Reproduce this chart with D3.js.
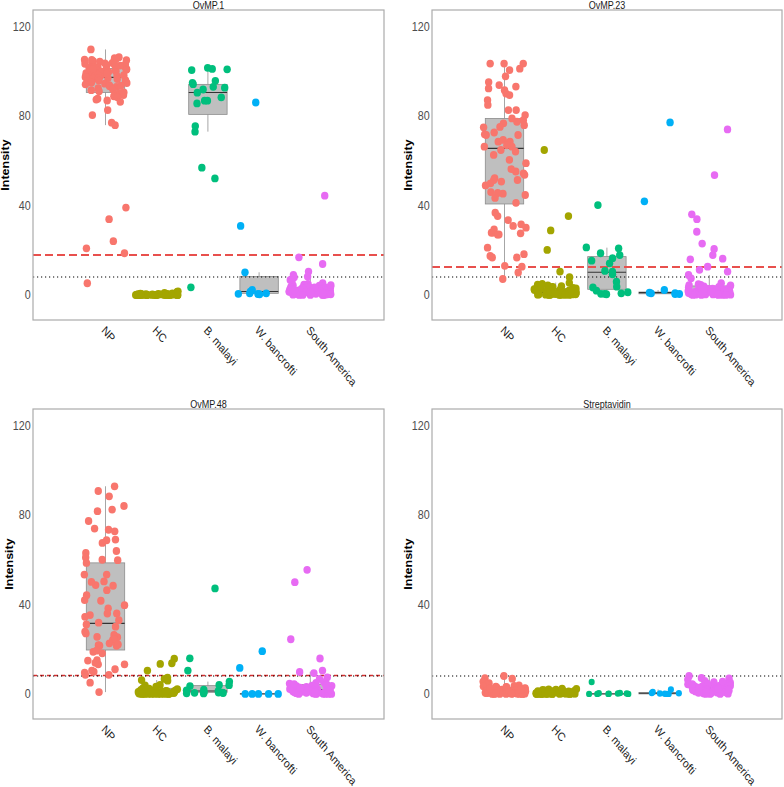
<!DOCTYPE html>
<html><head><meta charset="utf-8">
<script src="https://cdn.jsdelivr.net/npm/d3@7"></script>
<style>body{margin:0;background:#fff} svg{display:block} text{font-family:"Liberation Sans",Arial,sans-serif}</style>
</head><body><svg id="chart" width="784" height="787"></svg>
<script>
// ---------------- DATA ----------------
const categories = ["NP", "HC", "B. malayi", "W. bancrofti", "South America"];
const groupColors = ["#F8766D", "#A3A500", "#00BF7D", "#00B0F6", "#E76BF3"];
const panelTitles = ["OvMP.1", "OvMP.23", "OvMP.48", "Streptavidin"];
const yTickValues = [0, 40, 80, 120];
const yDomain = [-11.2, 127.2];
const redCutoffs = [17.8, 12.5, 8.2, null];
const dottedCutoffs = [8, 8, 8, 8];

// OvMP.1
const ovmp1_NP = [109.6,106.1,105.7,105.3,105.0,104.8,104.4,104.1,103.9,103.4,103.2,102.9,102.6,102.2,101.9,101.7,101.3,101.0,100.8,100.5,100.2,99.9,99.6,99.4,99.0,98.8,98.5,98.1,97.9,97.6,97.3,97.1,96.8,96.5,96.2,95.9,95.5,95.1,94.8,94.3,94.0,93.7,93.2,92.9,92.3,91.8,91.4,90.9,90.4,90.1,89.6,89.2,88.7,88.3,87.6,87.2,86.8,86.2,104.9,103.6,102.4,101.5,100.6,99.7,98.9,98.3,97.7,96.9,95.7,94.6,93.4,102.8,100.9,96.4,82.5,80.3,76.9,75.8,39.0,33.8,24.0,20.8,18.6,5.2];
const ovmp1_HC = [0,0.3,0,0,0.5,0,0.1,0,0.2,0,0,0.4,0,0,1.3,0,0.2,0,0.6,0,0,0.1,0,0.3,0,0.9,0,0,0.2,0,0.4,0,0,0.1,0,0.7,0,0.2,0,0,1.6,0,0.3,0,0];
const ovmp1_BM = [100.7,101.4,100.4,100.9,94.1,95.6,94.7,92.9,90.3,91.7,92.5,86.7,86.7,85.5,88.2,72.9,75.4,56.8,52.0,3.4];
const ovmp1_WB = [85.9,30.8,10.1,2.2,1.5,0.7,0.5,0.4,0.3,0.7];
const ovmp1_SA = [44.3,16.8,13.8,10.4,8.9,8.2,7.9,6.7,6.4,5.2,4.9,4.6,4.3,4.1,3.9,3.7,3.6,3.4,3.2,3.1,2.9,2.8,2.7,2.5,2.4,2.3,2.2,2.0,1.9,1.8,1.7,1.6,1.5,1.4,1.4,1.3,1.2,1.1,1.0,0.9,0.9,0.8,0.7,0.7,0.6,0.5,0.5,0.4,0.3,0.3,0.2,0.2,0.1,0.1,0,0,0,0,0,3.3,2.6,1.9,1.2,0.8,4.4,2.1,0.6];
// box stats: [lower whisker, Q1, median, Q3, upper whisker] per category
const ovmp1_box = [[75.8,90.4,97.1,101.1,109.6],[0,0,0,0.3,0.7],[72.9,80.6,90.4,94.0,101.4],[0.3,0.7,1.5,8.2,10.1],[0,0.6,1.6,3.4,7.9]];

// OvMP.23
const ovmp23_NP = [103.3,100.4,103.3,101.0,103.3,97.6,93.7,93.0,95.0,92.2,91.4,89.9,89.2,87.0,84.8,82.5,82.5,80.3,78.8,78.0,76.6,77.3,75.8,75.0,71.4,71.4,71.7,68.4,68.4,69.2,67.7,66.2,66.2,64.7,62.5,60.3,58.8,55.1,54.3,53.6,52.1,51.3,50.6,49.8,51.3,45.9,45.2,45.5,43.3,41.1,35.2,36.7,33.4,31.5,30.8,30.0,27.8,27.0,27.5,27.8,21.1,18.2,17.4,16.7,16.7,13.0,10.0,7.1,74.8,72.5,66.8,64.0,56.2,48.9,44.6,29.2,26.9,12.6];
const ovmp23_HC = [64.7,35.2,28.8,20.1,10.4,7.9,5.4,4.9,4.6,4.3,3.9,3.6,3.4,3.1,2.9,2.7,2.4,2.2,2.0,1.8,1.7,1.5,1.4,1.2,1.1,1.0,0.9,0.8,0.7,0.6,0.5,0.5,0.4,0.3,0.3,0.2,0.2,0.1,0.1,0,0,0,0,0,0,2.6,1.3,3.5,0.8,4.1,1.9,0.4];
const ovmp23_BM = [40.1,20.8,21.2,18.6,17.8,15.3,16.4,14.1,10.7,10.4,9.2,5.9,3.7,3.3,1.9,0.7,0.5,0.5,1.2,0.3];
const ovmp23_WB = [77.0,41.8,0.7,0.4,2.2,1.0,0.8,0.4];
const ovmp23_SA = [73.9,53.5,36.0,33.8,28.2,22.9,20.5,17.8,15.9,16.2,12.6,11.2,10.4,8.9,7.4,5.2,4.8,4.5,4.2,4.0,3.8,3.6,3.5,3.3,3.1,3.0,2.8,2.7,2.5,2.4,2.2,2.1,2.0,1.9,1.8,1.6,1.5,1.4,1.3,1.2,1.1,1.0,0.9,0.8,0.8,0.7,0.6,0.5,0.4,0.4,0.3,0.2,0.2,0.1,0.1,0,0,0,0,0,3.4,2.3,1.7,0.6,4.4,2.9,1.2,0.3];
const ovmp23_box = [[6.7,40.6,65.4,78.8,103.3],[0,0.3,1.0,2.8,5.5],[0.3,2.5,10.1,17.1,21.1],[0.4,0.5,1.0,1.3,2.2],[0,0.8,2.0,4.0,8.9]];

// OvMP.48
const ovmp48_NP = [92.7,90.6,88.2,83.9,82.3,81.6,77.2,73.8,73.3,72.6,68.6,67.4,68.9,62.9,60.9,63.8,59.7,59.9,58.5,53.3,53.3,48.6,48.3,50.0,50.2,46.3,44.1,41.9,41.6,39.6,38.2,35.2,35.9,34.4,35.9,31.8,31.0,30.0,32.9,25.5,25.3,27.8,26.3,27.0,24.1,24.3,21.5,22.6,21.8,21.5,21.5,22.1,18.1,18.8,19.3,15.1,13.2,13.2,13.9,14.9,11.0,9.9,10.4,9.5,8.5,8.5,5.0,0.8];
const ovmp48_HC = [15.7,13.7,13.4,10.4,7.3,6.7,6.2,5.9,4.0,3.8,3.2,2.6,2.3,2.0,1.8,1.6,1.4,1.2,1.1,1.0,0.9,0.8,0.7,0.6,0.5,0.5,0.4,0.3,0.3,0.2,0.2,0.1,0.1,0,0,0,0,0,0,0,0,1.5,0.6,2.1,0.9,0.3,1.3,0,0.4,0];
const ovmp48_BM = [47.1,15.9,10.4,5.5,4.0,3.9,3.5,1.9,1.6,1.3,0.8,0.6,0.6,0.5,0.3,0.2,0.4];
const ovmp48_WB = [19.1,11.6,0,0,0,0,0];
const ovmp48_SA = [55.4,49.9,24.4,15.8,10.4,9.8,9.3,7.4,6.7,5.3,4.9,4.6,4.2,3.9,3.7,3.5,3.3,3.1,2.9,2.7,2.6,2.4,2.3,2.1,2.0,1.9,1.7,1.6,1.5,1.4,1.3,1.2,1.1,1.0,0.9,0.8,0.7,0.7,0.6,0.5,0.4,0.4,0.3,0.2,0.2,0.1,0.1,0,0,0,0,0,3.6,2.2,1.4,0.5,4.4,2.8,1.8,0.9];
const ovmp48_box = [[0.8,19.6,31.5,58.5,92.7],[0,0.2,0.8,2.5,6.2],[0.2,0.7,1.3,3.7,5.5],[0,0,0,0,0],[0,0.8,2.0,4.2,9.9]];

// Streptavidin
const strep_NP = [8.0,7.0,6.8,5.5,4.8,4.1,3.8,3.6,3.4,3.2,3.0,2.9,2.7,2.6,2.4,2.3,2.1,2.0,1.9,1.8,1.7,1.6,1.5,1.4,1.3,1.2,1.1,1.0,0.9,0.9,0.8,0.7,0.6,0.6,0.5,0.4,0.4,0.3,0.3,0.2,0.2,0.1,0.1,0,0,0,0,0,0,0,2.5,1.3,0.5,3.1,1.8,0.7,0,0.2];
const strep_HC = [2.4,2.2,2.0,1.9,1.8,1.6,1.5,1.4,1.3,1.2,1.1,1.0,0.9,0.9,0.8,0.8,0.7,0.7,0.6,0.6,0.5,0.5,0.4,0.4,0.3,0.3,0.3,0.2,0.2,0.2,0.1,0.1,0.1,0,0,0,0,0,0,0,0,0,0,1.7,0.9,0.4,1.2,0.6,0.2,0];
const strep_BM = [5.3,0,0.2,0,0.3,0,0.1,0.4,0,0.2];
const strep_WB = [0,0.2,0.4,0.1,0,0.3,2.0,0.9];
const strep_SA = [8.0,7.1,6.9,6.4,5.8,5.3,5.0,4.7,4.5,4.3,4.1,3.9,3.7,3.6,3.4,3.3,3.1,3.0,2.9,2.7,2.6,2.5,2.4,2.2,2.1,2.0,1.9,1.8,1.7,1.6,1.5,1.4,1.3,1.2,1.1,1.0,0.9,0.8,0.7,0.6,0.5,0.4,0.3,0.2,0.1,0,0,0,4.4,3.5,2.3,1.5,0.8,5.5,2.8];
const strep_box = [[0,0.5,1.5,3.0,7.0],[0,0.2,0.6,1.2,2.4],[0,0,0,0,0],[0,0,0.3,0.6,2.0],[0,1.2,2.5,4.0,8.0]];

// ---------------- DRAWING ----------------
const panelData = [
  {groups: [ovmp1_NP, ovmp1_HC, ovmp1_BM, ovmp1_WB, ovmp1_SA], box: ovmp1_box},
  {groups: [ovmp23_NP, ovmp23_HC, ovmp23_BM, ovmp23_WB, ovmp23_SA], box: ovmp23_box},
  {groups: [ovmp48_NP, ovmp48_HC, ovmp48_BM, ovmp48_WB, ovmp48_SA], box: ovmp48_box},
  {groups: [strep_NP, strep_HC, strep_BM, strep_WB, strep_SA], box: strep_box}
];
const frames = [
  {l: 33,  r: 384, t: 10,  b: 320, yTitleX: 8.7,   red: {w: 2, dash: "8,4", c: "#e8504d"}, small: []},
  {l: 432, r: 782, t: 10,  b: 320, yTitleX: 411.5, red: {w: 2, dash: "8,4", c: "#e8504d"}, small: []},
  {l: 33,  r: 384, t: 409, b: 719, yTitleX: 12.5,  red: {w: 1.6, dash: "4,3", c: "#d93030"}, small: []},
  {l: 432, r: 782, t: 409, b: 719, yTitleX: 412.2, red: null, small: [2, 3]}
];
const SX = 0.86; // horizontal squeeze of the original image
const svg = d3.select("#chart");
svg.append("rect").attr("width", 784).attr("height", 787).attr("fill", "#fff");

frames.forEach((f, pi) => {
  const pd = panelData[pi];
  const g = svg.append("g");
  const x = d3.scalePoint().domain(categories).range([f.l + 72.5, f.l + 72.5 + 4 * 51.2]);
  const step = x.step();
  const bw = 0.75 * step;
  const y = d3.scaleLinear().domain(yDomain).range([f.b, f.t]);

  // boxes
  const boxes = g.append("g");
  categories.forEach((cat, ci) => {
    const [lo, q1, med, q3, hi] = pd.box[ci];
    const cx = x(cat);
    boxes.append("line").attr("x1", cx).attr("x2", cx).attr("y1", y(hi)).attr("y2", y(q3))
      .attr("stroke", "#a6a6a6").attr("stroke-width", 1);
    boxes.append("line").attr("x1", cx).attr("x2", cx).attr("y1", y(q1)).attr("y2", y(lo))
      .attr("stroke", "#a6a6a6").attr("stroke-width", 1);
    boxes.append("rect").attr("x", cx - bw / 2).attr("width", bw)
      .attr("y", y(q3)).attr("height", Math.max(0, y(q1) - y(q3)))
      .attr("fill", "#bfbfbf").attr("stroke", "#8c8c8c").attr("stroke-width", 0.8);
    boxes.append("line").attr("x1", cx - bw / 2).attr("x2", cx + bw / 2).attr("y1", y(med)).attr("y2", y(med))
      .attr("stroke", "#333").attr("stroke-width", 1.1);
  });

  // cutoff lines
  if (f.red && redCutoffs[pi] != null) {
    g.append("line").attr("x1", f.l).attr("x2", f.r).attr("y1", y(redCutoffs[pi])).attr("y2", y(redCutoffs[pi]))
      .attr("stroke", f.red.c).attr("stroke-width", f.red.w).attr("stroke-dasharray", f.red.dash);
  }
  g.append("line").attr("x1", f.l).attr("x2", f.r).attr("y1", y(dottedCutoffs[pi])).attr("y2", y(dottedCutoffs[pi]))
    .attr("stroke", "#000").attr("stroke-width", 1.1).attr("stroke-dasharray", "1.2,2.8");

  // jittered points (seeded jitter, like geom_jitter)
  const rng = d3.randomLcg(0.137 + pi * 0.211);
  const pts = g.append("g");
  pd.groups.forEach((vals, ci) => {
    const r = f.small.includes(ci) ? 3.2 : 3.9;
    pts.selectAll(null).data(vals).join("ellipse")
      .attr("cx", () => x(categories[ci]) + (rng() * 2 - 1) * 0.42 * step)
      .attr("cy", d => y(d))
      .attr("rx", r * 0.95).attr("ry", r)
      .attr("fill", groupColors[ci]);
  });

  // border
  g.append("rect").attr("x", f.l).attr("y", f.t).attr("width", f.r - f.l).attr("height", f.b - f.t)
    .attr("fill", "none").attr("stroke", "#ababab").attr("stroke-width", 1.2);

  // title
  g.append("text").attr("transform", `translate(${(f.l + f.r) / 2},${f.t - 0.6}) scale(${SX},1)`)
    .attr("text-anchor", "middle").attr("font-size", 10.5).attr("fill", "#1a1a1a").text(panelTitles[pi]);

  // y tick labels
  g.selectAll(null).data(yTickValues).join("text")
    .attr("transform", d => `translate(${f.l - 2.3},${y(d)}) scale(${SX},1)`)
    .attr("text-anchor", "end").attr("dy", "0.36em").attr("font-size", 12.5).attr("fill", "#4d4d4d")
    .text(d => d);

  // y axis title
  g.append("text").attr("transform", `translate(${f.yTitleX},${(f.t + f.b) / 2}) scale(${SX},1) rotate(-90)`)
    .attr("text-anchor", "middle").attr("font-size", 12.5).attr("font-weight", "bold").attr("fill", "#000")
    .text("Intensity");

  // x labels
  g.selectAll(null).data(categories).join("text")
    .attr("transform", d => `translate(${x(d) - 2},${f.b + 8}) scale(${SX},1) rotate(46)`)
    .attr("text-anchor", "start").attr("dy", "0.35em").attr("font-size", 12).attr("fill", "#1a1a1a")
    .text(d => d);
});
</script></body></html>
